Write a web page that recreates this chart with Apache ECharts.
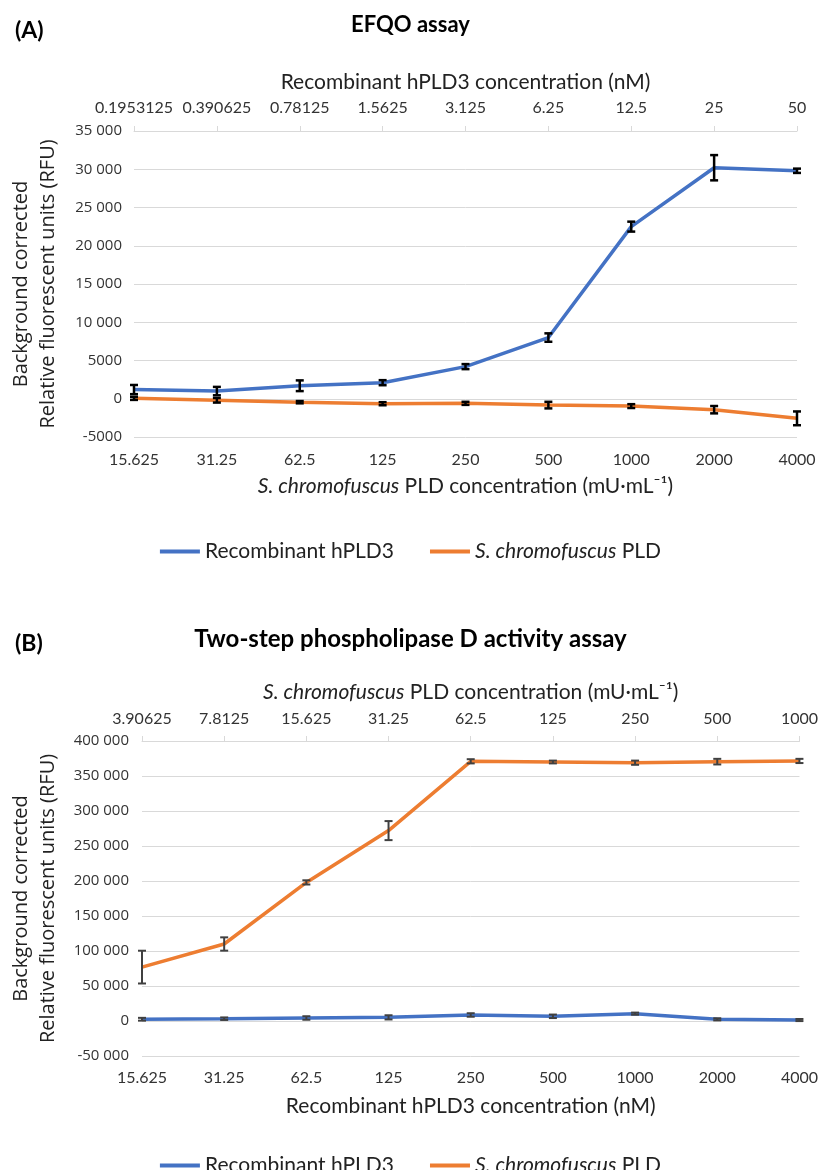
<!DOCTYPE html>
<html>
<head>
<meta charset="utf-8">
<script src="https://cdn.jsdelivr.net/npm/echarts@6/dist/echarts.min.js"></script>
<style>
html,body{margin:0;padding:0;background:#fff;}
#c{width:821px;height:1170px;}
</style>
</head>
<body>
<div id="c"></div>
<script>
// ---------- Data ----------
const A_bottomCats = ['15.625','31.25','62.5','125','250','500','1000','2000','4000'];
const A_topCats = ['0.1953125','0.390625','0.78125','1.5625','3.125','6.25','12.5','25','50'];
const A_hPLD3 = [1200, 1000, 1700, 2100, 4200, 8000, 22500, 30200, 29800];
const A_hPLD3_err = [600, 550, 700, 330, 330, 550, 650, 1650, 280];
const A_scPLD = [50, -200, -450, -650, -600, -830, -960, -1430, -2560];
const A_scPLD_err = [200, 300, 150, 200, 200, 430, 250, 480, 900];

const B_topCats = ['3.90625','7.8125','15.625','31.25','62.5','125','250','500','1000'];
const B_bottomCats = ['15.625','31.25','62.5','125','250','500','1000','2000','4000'];
const B_hPLD3 = [2500, 3300, 4300, 5200, 8600, 6700, 10500, 2400, 1400];
const B_hPLD3_err = [2000, 1800, 2500, 3000, 2500, 2500, 1500, 1500, 1500];
const B_scPLD = [77000, 110000, 198000, 272000, 371000, 370000, 369000, 370500, 371500];
const B_scPLD_err = [23400, 9500, 3000, 13600, 3000, 2000, 3000, 4000, 3000];

const seriesNames = ['Recombinant hPLD3', 'S. chromofuscus PLD'];

// ---------- Helpers ----------
const BLUE = '#4472C4', ORANGE = '#ED7D31';
const LBL = 'Lato', YF = 'Open Sans';
function fmt(v){
  const a = Math.abs(v);
  if (a >= 10000) {
    const s = String(a);
    const t = s.slice(0, s.length-3) + ' ' + s.slice(s.length-3);
    return (v < 0 ? '-' : '') + t;
  }
  return String(v);
}
function errData(vals, errs){ return vals.map((v,i)=>[i, v-errs[i], v+errs[i]]); }
function errSeries(xi, yi, vals, errs, color, lw){
  return {
    type:'custom', xAxisIndex:xi, yAxisIndex:yi, z:5, silent:true,
    data: errData(vals, errs),
    renderItem: function(params, api){
      const x = api.value(0);
      const lo = api.coord([x, api.value(1)]);
      const hi = api.coord([x, api.value(2)]);
      const w = 4;
      const st = {stroke: color, lineWidth: lw};
      return {type:'group', children:[
        {type:'line', shape:{x1:lo[0], y1:lo[1], x2:hi[0], y2:hi[1]}, style:st},
        {type:'line', shape:{x1:lo[0]-w, y1:lo[1], x2:lo[0]+w, y2:lo[1]}, style:st},
        {type:'line', shape:{x1:hi[0]-w, y1:hi[1], x2:hi[0]+w, y2:hi[1]}, style:st}
      ]};
    }
  };
}
const NAMESIZE = 21;
const richI = {i:{fontStyle:'italic', fontFamily:LBL, fontSize:NAMESIZE, color:'#222'}};
function topAxis(gi, cats, name, gap, margin){
  return {
    type:'category', gridIndex:gi, position:'top', data:cats, boundaryGap:false,
    axisLine:{show:true, lineStyle:{color:'#d9d9d9', width:1}},
    axisTick:{show:true, length:5, lineStyle:{color:'#d9d9d9'}},
    axisLabel:{fontFamily:LBL, fontSize:16, color:'#333', margin:margin, interval:0},
    name:name, nameLocation:'middle', nameGap:gap,
    nameTextStyle:{fontFamily:LBL, fontSize:NAMESIZE, color:'#222', rich:richI}
  };
}
function bottomAxis(gi, cats, name, gap, margin){
  return {
    type:'category', gridIndex:gi, position:'bottom', data:cats, boundaryGap:false,
    axisLine:{show:false}, axisTick:{show:false},
    axisLabel:{fontFamily:LBL, fontSize:16, color:'#333', margin:margin, interval:0},
    name:name, nameLocation:'middle', nameGap:gap,
    nameTextStyle:{fontFamily:LBL, fontSize:NAMESIZE, color:'#222', rich:richI}
  };
}
function yAxis(gi, min, max, step, gap, margin){
  return {
    type:'value', gridIndex:gi, min:min, max:max, interval:step,
    axisLine:{show:false}, axisTick:{show:false},
    splitLine:{show:true, lineStyle:{color:'#d9d9d9', width:1}},
    axisLabel:{fontFamily:YF, fontSize:15, color:'#333', margin:margin, formatter:fmt},
    name:'Background corrected\nRelative fluorescent units (RFU)',
    nameLocation:'middle', nameGap:gap,
    nameTextStyle:{fontFamily:YF, fontSize:20, color:'#222', lineHeight:27}
  };
}
function lineSeries(name, xi, yi, data, color){
  return {name:name, type:'line', xAxisIndex:xi, yAxisIndex:yi, data:data,
    showSymbol:false, symbol:'none', lineStyle:{color:color, width:3.5}, itemStyle:{color:color}, z:3};
}
const legendBase = {
  data: seriesNames, icon:'rect', itemWidth:40, itemHeight:4, itemGap:36,
  textStyle:{fontFamily:LBL, fontSize:21, color:'#222', rich:richI},
  formatter: n => n === 'S. chromofuscus PLD' ? '{i|S. chromofuscus} PLD' : n
};

const chart = echarts.init(document.getElementById('c'), null, {renderer:'canvas'});
chart.setOption({
  animation:false,
  backgroundColor:'#fff',
  title:[
    {text:'(A)', left:10, top:14, textStyle:{fontFamily:LBL, fontSize:23, fontWeight:'bold', color:'#000'}},
    {text:'EFQO assay', left:'center', top:9, textStyle:{fontFamily:LBL, fontSize:22, fontWeight:'bold', color:'#000'}},
    {text:'(B)', left:10, top:627, textStyle:{fontFamily:LBL, fontSize:23, fontWeight:'bold', color:'#000'}},
    {text:'Two-step phospholipase D activity assay', left:'center', top:622, textStyle:{fontFamily:LBL, fontSize:24, fontWeight:'bold', color:'#000'}}
  ],
  grid:[
    {left:124, right:24, top:131, height:306},
    {left:134, right:20, top:741, height:315}
  ],
  xAxis:[
    bottomAxis(0, A_bottomCats, '{i|S. chromofuscus} PLD concentration (mU·mL\u207B\u00B9)', 39, 15),
    topAxis(0, A_topCats, 'Recombinant hPLD3 concentration (nM)', 38, 15),
    bottomAxis(1, B_bottomCats, 'Recombinant hPLD3 concentration (nM)', 40, 14),
    topAxis(1, B_topCats, '{i|S. chromofuscus} PLD concentration (mU·mL\u207B\u00B9)', 38, 14)
  ],
  yAxis:[
    yAxis(0, -5000, 35000, 5000, 72, 12),
    yAxis(1, -50000, 400000, 50000, 80, 13)
  ],
  legend:[
    Object.assign({top:536, left:'center'}, legendBase),
    Object.assign({top:1150, left:'center'}, legendBase)
  ],
  series:[
    lineSeries(seriesNames[0], 0, 0, A_hPLD3, BLUE),
    lineSeries(seriesNames[1], 0, 0, A_scPLD, ORANGE),
    errSeries(0, 0, A_hPLD3, A_hPLD3_err, '#000', 2.5),
    errSeries(0, 0, A_scPLD, A_scPLD_err, '#000', 2.5),
    lineSeries(seriesNames[0], 2, 1, B_hPLD3, BLUE),
    lineSeries(seriesNames[1], 2, 1, B_scPLD, ORANGE),
    errSeries(2, 1, B_hPLD3, B_hPLD3_err, '#404040', 2),
    errSeries(2, 1, B_scPLD, B_scPLD_err, '#404040', 2)
  ]
});
</script>
</body>
</html>
